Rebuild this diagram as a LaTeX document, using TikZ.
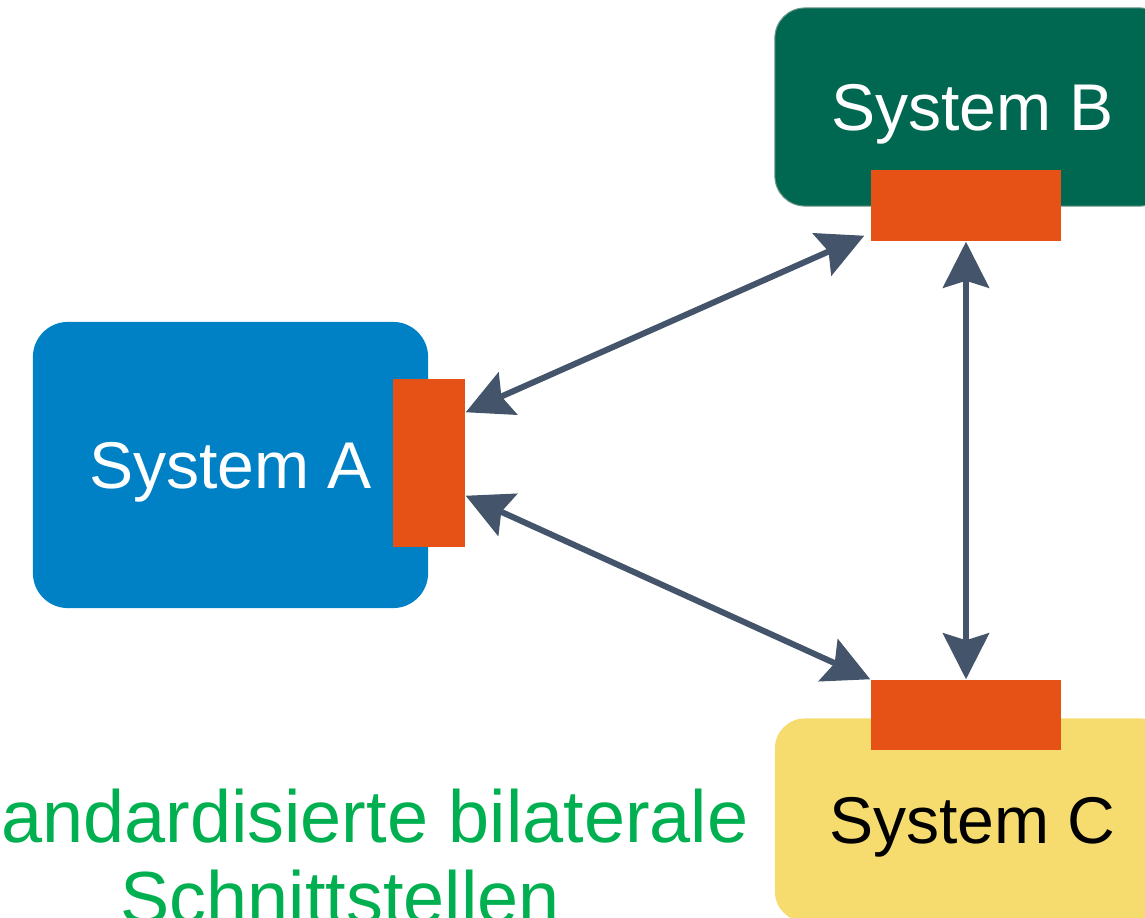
\documentclass[tikz,border=0pt]{standalone}
\usepackage{fontspec}
\setmainfont{Liberation Sans}
\usetikzlibrary{arrows.meta}

\definecolor{sysAblue}{RGB}{0,129,198}
\definecolor{sysBgreen}{RGB}{0,104,80}
\definecolor{sysBline}{RGB}{112,150,136}
\definecolor{sysCyellow}{RGB}{246,220,110}
\definecolor{ifaceorange}{RGB}{230,82,21}
\definecolor{linkgrey}{RGB}{68,84,106}
\definecolor{notegreen}{RGB}{0,176,80}

\tikzset{
  system/.style={rounded corners=0.3cm, inner sep=0pt, text depth=0pt,
    font=\fontsize{18.8}{22}\selectfont},
  iface/.style={fill=ifaceorange, inner sep=0pt},
  link/.style={draw=linkgrey, line width=0.06cm,
    {Stealth[length=0.46cm,width=0.46cm,inset=0.07cm]}-{Stealth[length=0.46cm,width=0.46cm,inset=0.07cm]}}
}

\begin{document}
\begin{tikzpicture}[x=0.01cm, y=-0.01cm]
  \useasboundingbox (0,0) rectangle (1145,918);
  \clip (0,0) rectangle (1145,918);

  % the three systems
  \node[system, fill=sysAblue, text=white, minimum width=3.95cm, minimum height=2.86cm,
        rounded corners=0.35cm] (sysA) at (230.5,465) {System A};
  \node[system, fill=sysBgreen, draw=sysBline, line width=0.01cm, text=white,
        minimum width=3.95cm, minimum height=1.98cm] (sysB) at (972.5,107) {System B};
  \node[system, fill=sysCyellow, text=black, minimum width=3.95cm, minimum height=2.03cm]
        (sysC) at (972.5,820) {System C};

  % interfaces
  \node[iface, minimum width=0.72cm, minimum height=1.68cm] (ifA) at (429,463) {};
  \node[iface, minimum width=1.9cm, minimum height=0.71cm] (ifB) at (966,205.5) {};
  \node[iface, minimum width=1.9cm, minimum height=0.7cm] (ifC) at (966,715) {};

  % bilateral links
  \draw[link] ([yshift=-0.34cm]ifA.north east) -- ([shift={(-0.06cm,0.06cm)}]ifB.south west);
  \draw[link] ([yshift=0.52cm]ifA.south east) -- (ifC.north west);
  \draw[link] (ifB.south) -- (ifC.north);

  \node[text=notegreen, align=center, anchor=base, font=\fontsize{21}{22.8}\selectfont]
        (note) at (340,923) {Standardisierte bilaterale\\Schnittstellen};
\end{tikzpicture}
\end{document}
